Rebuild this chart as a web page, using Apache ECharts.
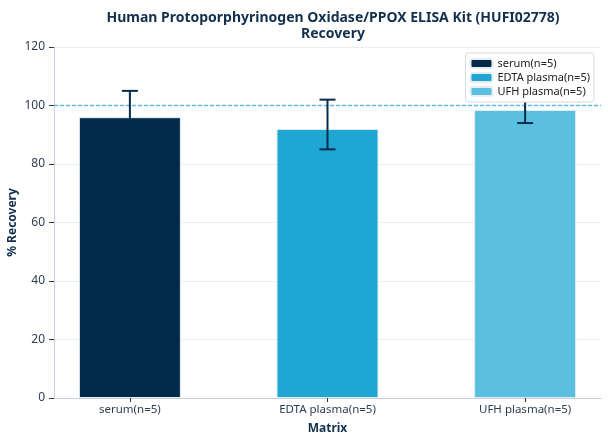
<!DOCTYPE html>
<html><head><meta charset="utf-8">
<script src="https://cdn.jsdelivr.net/npm/echarts@6/dist/echarts.min.js"></script>
<style>html,body{margin:0;padding:0;background:#fff}#c{width:608px;height:444px}</style>
</head><body><div id="c"></div>
<script>
const categories = ['serum(n=5)', 'EDTA plasma(n=5)', 'UFH plasma(n=5)'];
const recovery = [96, 92, 98.5];
const errLow = [87, 85, 94];
const errHigh = [105, 102, 103];
const yTicks = [0, 20, 40, 60, 80, 100, 120];
const refLine = [100];
const colors = ['#022b4a', '#1fa6d3', '#5bbfe0'];

const font = 'Noto Sans';
const chart = echarts.init(document.getElementById('c'), null, {renderer: 'canvas'});
const series = categories.map((name, i) => ({
  name: name,
  type: 'bar',
  data: [[i, recovery[i]]],
  barWidth: 102,
  barGap: '-100%',
  itemStyle: {color: colors[i], borderColor: '#e6edf2', borderWidth: 1},
  z: 2
}));
series.push({
  type: 'custom',
  name: 'ref',
  silent: true,
  z: 3,
  data: refLine.map(v => [v]),
  renderItem: function (params, api) {
    const a = api.coord([-0.384, api.value(0)]);
    const b = api.coord([2.384, api.value(0)]);
    return {type: 'line', shape: {x1: a[0], y1: a[1], x2: b[0], y2: b[1]},
      style: {stroke: '#5bc0ea', lineWidth: 1.3, lineDash: [4, 2]}};
  },
  encode: {y: 0}
});
series.push({
  type: 'custom',
  name: 'err',
  z: 5,
  data: categories.map((c, i) => [i, errLow[i], errHigh[i]]),
  renderItem: function (params, api) {
    const x = api.value(0);
    const lo = api.coord([x, api.value(1)]);
    const hi = api.coord([x, api.value(2)]);
    const w = 8;
    const st = {stroke: '#062c4b', lineWidth: 2};
    return {type: 'group', children: [
      {type: 'line', shape: {x1: lo[0], y1: lo[1], x2: hi[0], y2: hi[1]}, style: st},
      {type: 'line', shape: {x1: lo[0] - w, y1: lo[1], x2: lo[0] + w, y2: lo[1]}, style: st},
      {type: 'line', shape: {x1: hi[0] - w, y1: hi[1], x2: hi[0] + w, y2: hi[1]}, style: st}
    ]};
  }
});

chart.setOption({
  animation: false,
  textStyle: {fontFamily: font},
  title: {
    text: 'Human Protoporphyrinogen Oxidase/PPOX ELISA Kit (HUFI02778)\nRecovery',
    left: 328, top: 5, textAlign: 'center',
    textStyle: {fontFamily: font, fontSize: 14, fontWeight: 'bold', color: '#12304d', lineHeight: 16}
  },
  legend: {
    data: categories,
    right: 14, top: 53, orient: 'vertical',
    itemWidth: 22, itemHeight: 9, itemGap: 3,
    backgroundColor: '#fff', borderColor: '#d5dde5', borderWidth: 1, borderRadius: 3,
    padding: [5, 4, 5, 4],
    textStyle: {fontFamily: font, fontSize: 11, color: '#222'},
    z: 10
  },
  grid: {left: 54, right: 7, top: 47, bottom: 46, outerBoundsMode: 'none', containLabel: false},
  xAxis: {
    type: 'value', min: -0.384, max: 2.384,
    name: 'Matrix', nameLocation: 'middle', nameGap: 25, nameMoveOverlap: false,
    nameTextStyle: {fontFamily: font, fontSize: 12, fontWeight: 'bold', color: '#12304d'},
    axisLine: {show: true, onZero: false, lineStyle: {color: '#c5d0da'}},
    axisTick: {show: true, customValues: [0, 1, 2], length: 4, lineStyle: {color: '#333'}},
    axisLabel: {customValues: [0, 1, 2], formatter: v => categories[Math.round(v)], fontSize: 11.5, color: '#2c3e50', margin: 6},
    splitLine: {show: false}
  },
  yAxis: {
    type: 'value', min: 0, max: 120, interval: 20,
    name: '% Recovery', nameLocation: 'middle', nameGap: 35, nameMoveOverlap: false,
    nameTextStyle: {fontFamily: font, fontSize: 12, fontWeight: 'bold', color: '#12304d'},
    axisLine: {show: true, onZero: false, lineStyle: {color: '#c5d0da'}},
    axisTick: {show: true, length: 5, lineStyle: {color: '#333'}},
    axisLabel: {fontSize: 12, color: '#2c3e50', margin: 9, formatter: v => yTicks.includes(v) ? String(v) : ''},
    splitLine: {show: true, lineStyle: {color: '#e8eef3', width: 1}}
  },
  series: series
});
</script></body></html>
